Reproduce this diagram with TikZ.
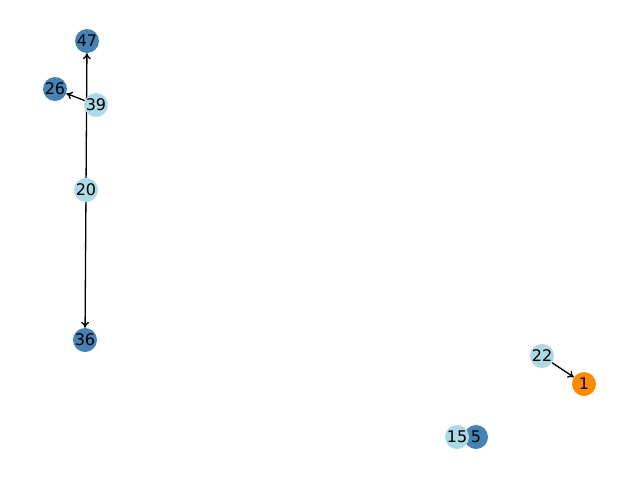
\documentclass[tikz,border=0pt]{standalone}
\usepackage{fontspec}
\setmainfont{DejaVu Sans}
\usetikzlibrary{arrows.meta}
\definecolor{darkb}{HTML}{4682B4}
\definecolor{lightb}{HTML}{ADD8E6}
\definecolor{orng}{HTML}{FF8C00}
\begin{document}
\begin{tikzpicture}[x=1pt,y=-1pt,
  nd/.style={circle,inner sep=0pt,minimum size=24pt,font=\fontsize{16}{16}\selectfont},
  dk/.style={nd,fill=darkb},
  lt/.style={nd,fill=lightb},
  og/.style={nd,fill=orng},
  edge/.style={line width=1.3pt,-{To[length=6pt,width=8pt]}}]
\useasboundingbox (0,0) rectangle (640,480);
\node[dk] (n47) at (87,41) {47};
\node[dk] (n26) at (55,89) {26};
\node[dk] (n36) at (85,340) {36};
\node[og] (n1) at (584,384) {1};
\node[dk] (n5) at (476,437) {5};
\node[lt] (n15) at (457,437) {15};
\node[lt] (n20) at (86,190) {20};
\node[lt] (n22) at (542,356) {22};
\draw[edge] (n20) -- (n47);
\node[lt] (n39) at (96,105) {39};
\draw[edge] (n39) -- (n26);
\draw[edge] (n20) -- (n36);
\draw[edge] (n22) -- (n1);
\end{tikzpicture}
\end{document}
